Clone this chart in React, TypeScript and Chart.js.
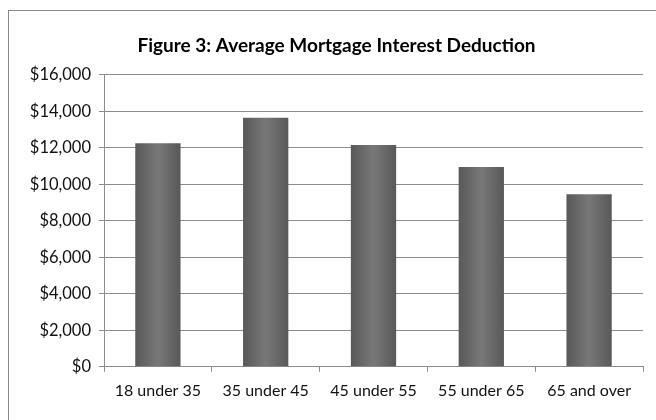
import React, { useEffect, useRef } from "react";
import { Chart, registerables } from "chart.js";

Chart.register(...registerables);

const categories = ["18 under 35", "35 under 45", "45 under 55", "55 under 65", "65 and over"];
const deductionValues = [12250, 13650, 12150, 10950, 9450];
const yMin = 0;
const yMax = 16000;
const yStep = 2000;
const titleText = "Figure 3: Average Mortgage Interest Deduction";

const FONT = "Lato, 'Open Sans', sans-serif";

const framePlugin = {
  id: "frame",
  beforeDraw(chart: any) {
    const ctx = chart.ctx;
    ctx.save();
    ctx.fillStyle = "#ffffff";
    ctx.fillRect(0, 0, chart.width, chart.height);
    ctx.strokeStyle = "#8a8a8a";
    ctx.lineWidth = 1;
    ctx.strokeRect(8.5, 10.5, 760, 520);
    ctx.restore();
  },
};

function barFill(c: any) {
  const chart = c.chart;
  const xs = chart.scales && chart.scales.x;
  if (!chart.chartArea || !xs || c.dataIndex === undefined) return "#707070";
  const cx = xs.getPixelForValue(c.dataIndex);
  const half = 23;
  const g = chart.ctx.createLinearGradient(cx - half, 0, cx + half, 0);
  g.addColorStop(0, "#585858");
  g.addColorStop(0.5, "#787878");
  g.addColorStop(1, "#585858");
  return g;
}

export default function App() {
  const ref = useRef<HTMLCanvasElement | null>(null);

  useEffect(() => {
    if (!ref.current) return;
    const chart = new Chart(ref.current, {
      type: "bar",
      data: {
        labels: categories,
        datasets: [
          {
            label: "Average Mortgage Interest Deduction",
            data: deductionValues,
            backgroundColor: barFill as any,
            borderWidth: 0,
            categoryPercentage: 0.42,
            barPercentage: 1,
          },
        ],
      },
      options: {
        responsive: false,
        animation: false,
        layout: { padding: { left: 30, right: 13, top: 34, bottom: 11 } },
        plugins: {
          legend: { display: false },
          tooltip: { enabled: false },
          title: {
            display: true,
            text: titleText,
            color: "#000000",
            font: { family: FONT, size: 19, weight: "bold" },
            padding: { top: 0, bottom: 18 },
          },
        },
        scales: {
          x: {
            offset: true,
            grid: {
              display: true,
              offset: true,
              drawOnChartArea: false,
              drawTicks: true,
              tickLength: 5,
              color: "#8c8c8c",
            },
            border: { display: true, color: "#8c8c8c", width: 1 },
            ticks: {
              color: "#111111",
              font: { family: FONT, size: 16 },
              padding: 9,
              maxRotation: 0,
              autoSkip: false,
            },
          },
          y: {
            min: yMin,
            max: yMax,
            afterFit: (s: any) => {
              s.width = 74;
            },
            grid: {
              color: "#8c8c8c",
              tickLength: 5,
            },
            border: { display: true, color: "#8c8c8c", width: 1 },
            ticks: {
              stepSize: yStep,
              color: "#111111",
              font: { family: FONT, size: 16.5 },
              padding: 8,
              callback: (v: any) => "$" + Number(v).toLocaleString("en-US"),
            },
          },
        },
      },
      plugins: [framePlugin],
    });
    return () => chart.destroy();
  }, []);

  return (
    <div style={{ position: "fixed", left: 0, top: 0, width: 656, height: 420, background: "#fff" }}>
      <canvas ref={ref} width={656} height={420} style={{ display: "block", width: 656, height: 420 }} />
    </div>
  );
}
